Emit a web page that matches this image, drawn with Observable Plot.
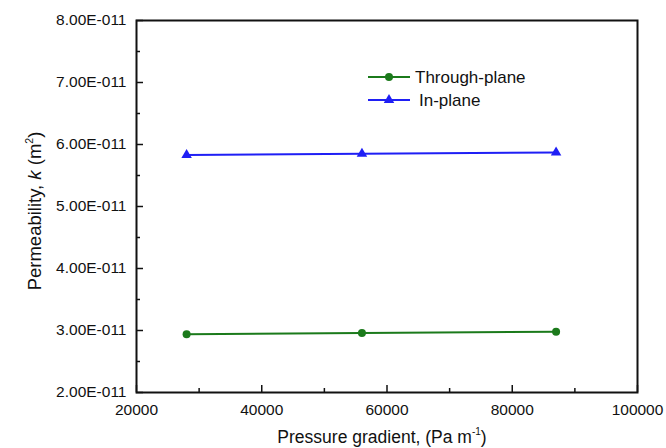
<!DOCTYPE html>
<html><head><meta charset="utf-8">
<script src="https://cdn.jsdelivr.net/npm/d3@7"></script>
<script src="https://cdn.jsdelivr.net/npm/@observablehq/plot@0.6"></script>
<style>body{margin:0;background:#fff} svg{display:block}</style>
</head><body><div id="chart"></div>
<script>
const pressure = [28000, 56000, 87000];
const throughPlane = [2.94e-11, 2.96e-11, 2.98e-11];
const inPlane = [5.83e-11, 5.85e-11, 5.87e-11];
const seriesNames = ["Through-plane", "In-plane"];
const seriesColors = ["#1b7a1b", "#1f1ff5"];
const xTicks = [20000, 40000, 60000, 80000, 100000];
const xMinorTicks = [30000, 50000, 70000, 90000];
const yTicks = [2e-11, 3e-11, 4e-11, 5e-11, 6e-11, 7e-11, 8e-11];
const yMinorTicks = [2.5e-11, 3.5e-11, 4.5e-11, 5.5e-11, 6.5e-11, 7.5e-11];

const W = 666, H = 448;
const mL = 136, mR = 29, mT = 20, mB = 56;
const pw = W - mL - mR, ph = H - mT - mB;
const font = "Liberation Sans, Arial, sans-serif";

const data = [];
pressure.forEach((p, i) => {
  data.push({x: p, y: throughPlane[i], s: seriesNames[0]});
  data.push({x: p, y: inPlane[i], s: seriesNames[1]});
});

const chart = Plot.plot({
  width: W, height: H,
  marginLeft: mL, marginRight: mR, marginTop: mT, marginBottom: mB,
  style: {fontFamily: font, fontSize: "15px", color: "#111", background: "#fff"},
  x: {domain: [20000, 100000]},
  y: {domain: [2e-11, 8e-11]},
  color: {domain: seriesNames, range: seriesColors},
  marks: [
    Plot.axisX(xTicks, {tickSize: 0, tickPadding: 11, fontSize: 15.5, label: null, tickFormat: d => String(d)}),
    Plot.axisY(yTicks, {tickSize: 0, tickPadding: 10, fontSize: 15.5, label: null, tickFormat: d => (d * 1e11).toFixed(2) + "E-011"}),
    Plot.tickY(yTicks, {y: d => d, insetRight: pw - 7, stroke: "#111", strokeWidth: 1.5}),
    Plot.tickY(yMinorTicks, {y: d => d, insetRight: pw - 4, stroke: "#111", strokeWidth: 1.5}),
    Plot.tickX(xTicks, {x: d => d, insetTop: ph - 7, stroke: "#111", strokeWidth: 1.5}),
    Plot.tickX(xMinorTicks, {x: d => d, insetTop: ph - 4, stroke: "#111", strokeWidth: 1.5}),
    Plot.frame({stroke: "#111", strokeWidth: 2}),
    Plot.line(data, {x: "x", y: "y", z: "s", stroke: "s", strokeWidth: 2}),
    Plot.dot(data.filter(d => d.s === seriesNames[0]), {x: "x", y: "y", fill: "s", r: 4, symbol: "circle"}),
    Plot.dot(data.filter(d => d.s === seriesNames[1]), {x: "x", y: "y", fill: "s", r: 3.9, symbol: "triangle"})
  ]
});
document.getElementById("chart").appendChild(chart);

const svg = d3.select(chart);
// axis titles
const xt = svg.append("text").attr("x", 382).attr("y", 443)
  .attr("text-anchor", "middle").attr("font-family", font).attr("font-size", 17.5).attr("fill", "#111");
xt.append("tspan").text("Pressure gradient, (Pa m");
xt.append("tspan").text("-1").attr("font-size", 10).attr("dy", -8);
xt.append("tspan").text(")").attr("dy", 8);

const yt = svg.append("text").attr("transform", `translate(41,211) rotate(-90)`)
  .attr("text-anchor", "middle").attr("font-family", font).attr("font-size", 18.5).attr("fill", "#111");
yt.append("tspan").text("Permeability, ");
yt.append("tspan").text("k").attr("font-style", "italic");
yt.append("tspan").text(" (m");
yt.append("tspan").text("2").attr("font-size", 10.5).attr("dy", -8);
yt.append("tspan").text(")").attr("dy", 8);

// legend
const lg = svg.append("g").attr("font-family", font).attr("font-size", 17).attr("fill", "#111");
const legY = [77, 100];
const legSym = [d3.symbolCircle, d3.symbolTriangle];
const legSize = [Math.PI * 16, Math.PI * 3.9 * 3.9];
seriesNames.forEach((n, i) => {
  const g = lg.append("g").attr("transform", `translate(0,${legY[i]})`);
  g.append("line").attr("x1", 368).attr("x2", 410).attr("stroke", seriesColors[i]).attr("stroke-width", 2);
  g.append("path").attr("d", d3.symbol(legSym[i], legSize[i])()).attr("transform", "translate(389,0)").attr("fill", seriesColors[i]);
  g.append("text").attr("x", i === 0 ? 415 : 419).attr("dy", "0.35em").attr("text-anchor", "start").text(n);
});
</script>
</body></html>
